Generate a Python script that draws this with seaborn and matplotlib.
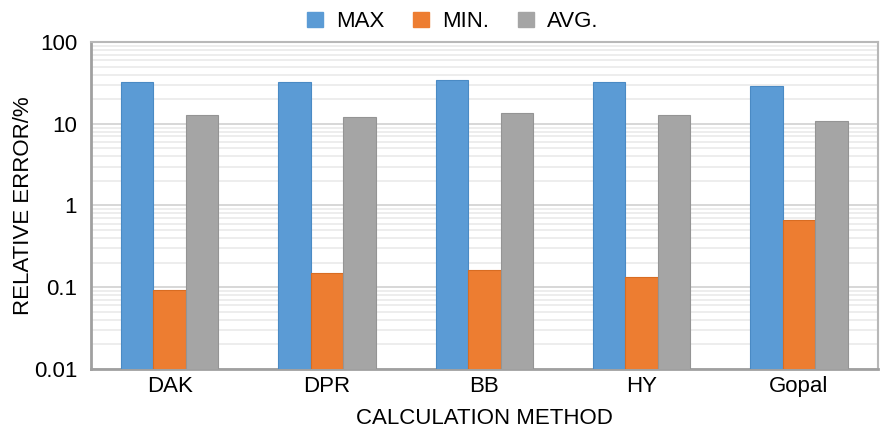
import numpy as np
import seaborn as sns
import pandas as pd
import matplotlib.pyplot as plt
from matplotlib.patches import Patch

methods = ["DAK", "DPR", "BB", "HY", "Gopal"]
series = ["MAX", "MIN.", "AVG."]
max_err = [32.5, 32.5, 34.4, 32.5, 29.1]
min_err = [0.092, 0.148, 0.161, 0.132, 0.66]
avg_err = [12.9, 12.2, 13.6, 12.9, 10.9]

colors = ["#5B9BD5", "#ED7D31", "#A5A5A5"]
edges = ["#4A8AC4", "#D86C22", "#949494"]

df = pd.DataFrame({"method": methods * 3,
                   "series": [s for s in series for _ in methods],
                   "value": max_err + min_err + avg_err})

sns.set_style("white")
plt.rcParams["font.family"] = ["Liberation Sans", "DejaVu Sans"]
plt.rcParams["text.color"] = "black"
plt.rcParams["axes.labelcolor"] = "black"
plt.rcParams["xtick.color"] = "black"
plt.rcParams["ytick.color"] = "black"
fs = 16

fig = plt.figure(figsize=(8.83, 4.34), dpi=100)
ax = fig.add_axes([0.103, 0.150, 0.891, 0.753])

sns.barplot(data=df, x="method", y="value", hue="series", order=methods,
            hue_order=series, palette=colors, width=0.62, saturation=1,
            linewidth=0.8, ax=ax, legend=False, zorder=3)
for i, cont in enumerate(ax.containers):
    for b in cont:
        b.set_edgecolor(edges[i])

ax.set_yscale("log")
ax.set_ylim(0.01, 100)
ax.set_xlim(-0.5, 4.5)
ax.set_yticks([0.01, 0.1, 1, 10, 100])
ax.set_yticklabels(["0.01", "0.1", "1", "10", "100"])
ax.grid(which="major", axis="y", color="#d4d4d4", linewidth=1.3, zorder=0)
ax.grid(which="minor", axis="y", color="#ececec", linewidth=1.3, zorder=0)
ax.set_axisbelow(True)

ax.tick_params(axis="y", which="major", direction="out", length=6, width=1.5,
               color="#a0a0a0", labelcolor="black", labelsize=fs, pad=4)
ax.tick_params(axis="y", which="minor", direction="out", length=3.5, width=1.2,
               color="#a8a8a8")
ax.tick_params(axis="x", length=0, labelsize=fs, labelcolor="black", pad=5)

for side in ["left", "bottom"]:
    ax.spines[side].set_color("#a0a0a0")
    ax.spines[side].set_linewidth(2)
for side in ["top", "right"]:
    ax.spines[side].set_color("#b8b8b8")
    ax.spines[side].set_linewidth(1.5)

ax.set_xlabel("CALCULATION METHOD", fontsize=fs, labelpad=8)
ax.set_ylabel("RELATIVE ERROR/%", fontsize=fs)
ax.yaxis.set_label_coords(-0.073, 0.5)

handles = [Patch(facecolor=c, edgecolor=c) for c in colors]
fig.legend(handles, series, loc="upper center", bbox_to_anchor=(0.513, 1.02),
           ncol=3, frameon=False, fontsize=fs, handlelength=0.7,
           handleheight=0.7, columnspacing=1.3, handletextpad=0.6)

fig.savefig("out.png", dpi=100)
